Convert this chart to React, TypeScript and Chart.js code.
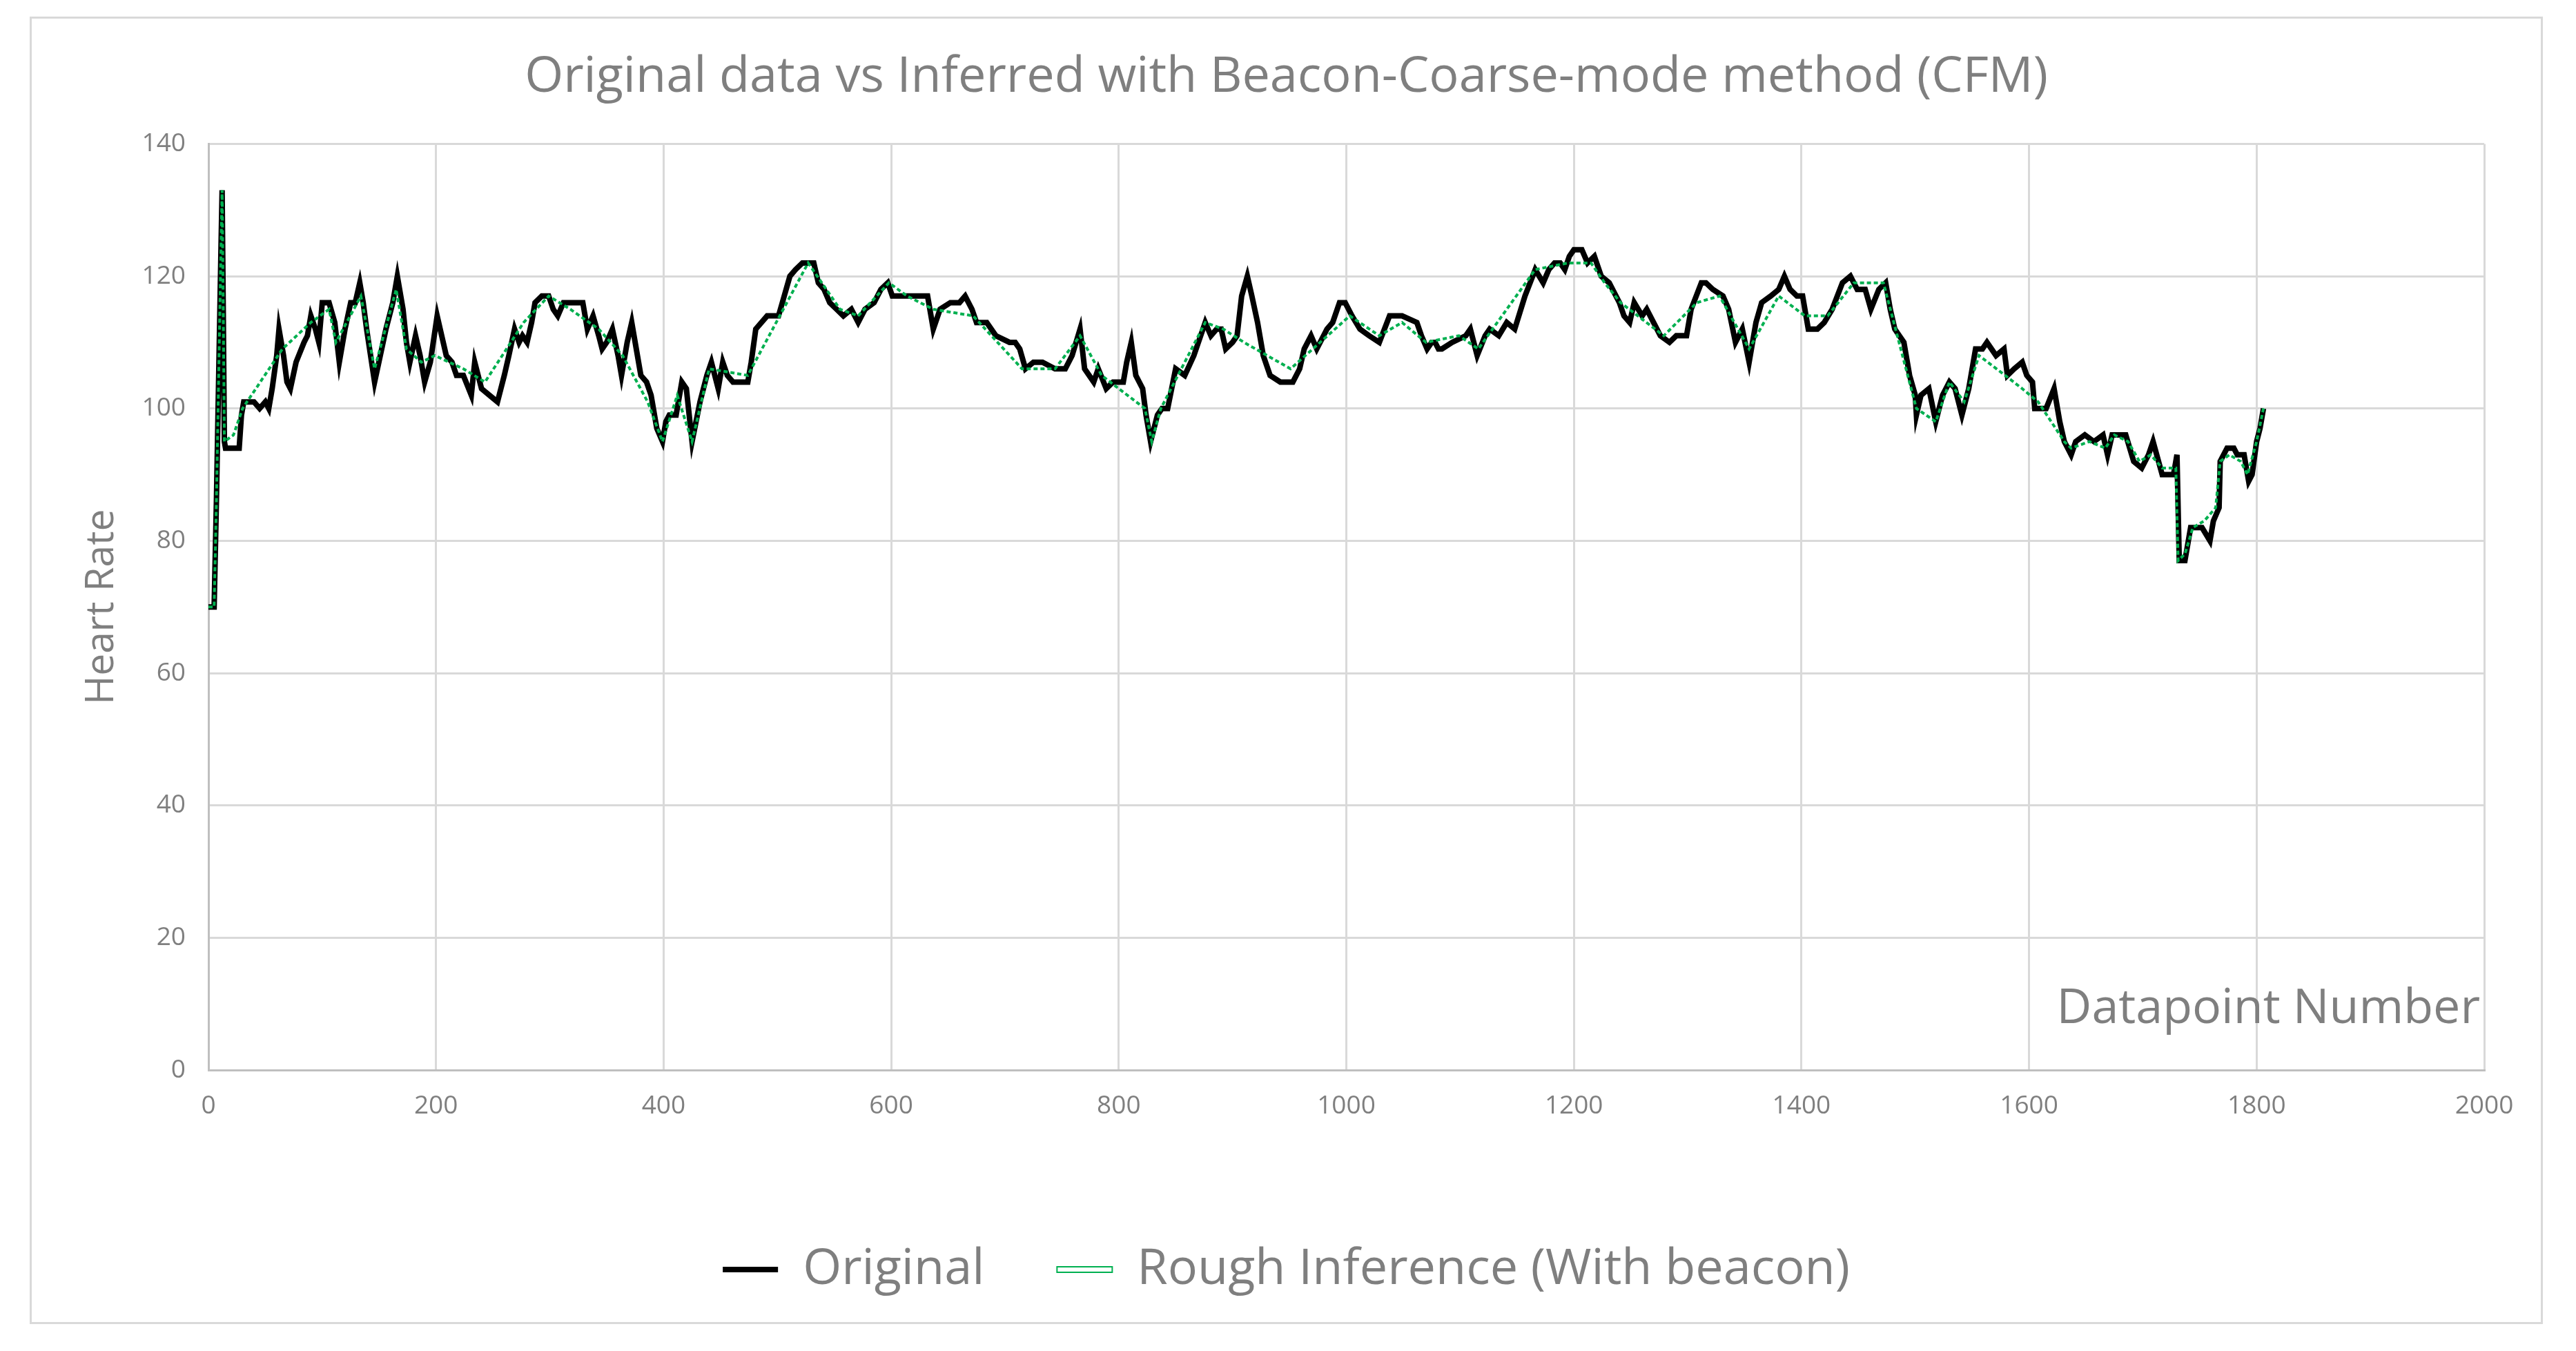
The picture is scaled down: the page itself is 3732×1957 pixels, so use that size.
import React, { useEffect, useRef } from 'react';
import { Chart, registerables } from 'chart.js';

Chart.register(...registerables);

// Original heart rate trace (datapoint number, bpm)
const origX = [
  0, 5, 7, 9, 11, 12, 13, 14, 15, 27, 29, 31, 40, 45, 50, 53, 56, 60, 62, 66, 69, 72, 77, 84, 87, 90, 94, 97,
  100, 106, 111, 115, 120, 125, 129, 133, 136, 139, 146, 151, 156, 162, 166, 171, 174, 177, 182, 186, 190, 195,
  201, 205, 209, 214, 218, 224, 231, 234, 240, 247, 254, 260, 264, 269, 273, 276, 280, 284, 287, 293, 299,
  303, 307, 312, 329, 333, 338, 343, 346, 350, 355, 360, 363, 368, 372, 376, 380, 385, 389, 394, 399,
  402, 405, 411, 416, 420, 425, 432, 438, 442, 448, 452, 456, 461, 474, 477, 481, 486, 491, 501, 506, 511,
  516, 522, 532, 536, 541, 546, 552, 558, 565, 571, 577, 585, 591, 597, 601, 632, 637, 643, 652, 660, 665,
  671, 675, 684, 692, 704, 709, 713, 718, 725, 733, 744, 753, 759, 766, 770, 778, 782, 789, 795, 804, 807,
  811, 815, 821, 824, 828, 834, 838, 843, 850, 858, 866, 872, 876, 881, 886, 890, 894, 900, 904, 908, 913,
  917, 922, 927, 933, 942, 953, 959, 963, 969, 974, 983, 988, 994, 999, 1005, 1012, 1020, 1029, 1038, 1049,
  1062, 1066, 1071, 1075, 1078, 1081, 1084, 1093, 1105, 1109, 1115, 1122, 1126, 1134, 1141, 1148, 1157, 1166,
  1173, 1178, 1183, 1188, 1192, 1196, 1200, 1207, 1212, 1218, 1224, 1231, 1240, 1244, 1249, 1253, 1260, 1264,
  1270, 1276, 1284, 1290, 1299, 1303, 1312, 1316, 1322, 1331, 1336, 1342, 1348, 1354, 1360, 1365, 1373, 1380,
  1385, 1390, 1396, 1401, 1406, 1414, 1420, 1427, 1436, 1443, 1449, 1456, 1461, 1468, 1474, 1478, 1482, 1490,
  1495, 1500, 1501, 1505, 1512, 1518, 1524, 1530, 1535, 1541, 1547, 1553, 1559, 1563, 1571, 1578, 1581, 1587,
  1594, 1598, 1603, 1605, 1615, 1622, 1627, 1631, 1637, 1641, 1649, 1657, 1665, 1669, 1673, 1685, 1692, 1699,
  1705, 1709, 1717, 1727, 1730, 1732, 1737, 1742, 1752, 1759, 1762, 1767, 1768, 1774, 1780, 1783, 1789, 1793,
  1796, 1800, 1803, 1806,
];
const origY = [
  70, 70, 86, 105, 124, 133, 115, 95, 94, 94, 99, 101, 101, 100, 101, 100, 103, 108, 112, 108, 104, 103, 107, 110, 111, 114, 112, 110,
  116, 116, 113, 107, 112, 116, 116, 119, 116, 112, 104, 108, 112, 116, 120, 115, 110, 107, 111, 108, 104, 107,
  114, 111, 108, 107, 105, 105, 102, 107, 103, 102, 101, 105, 108, 112, 110, 111, 110, 113, 116, 117, 117,
  115, 114, 116, 116, 112, 114, 111, 109, 110, 112, 108, 105, 110, 113, 109, 105, 104, 102, 97, 95,
  98, 99, 99, 104, 103, 95, 101, 105, 107, 103, 107, 105, 104, 104, 107, 112, 113, 114, 114, 117, 120,
  121, 122, 122, 119, 118, 116, 115, 114, 115, 113, 115, 116, 118, 119, 117, 117, 112, 115, 116, 116, 117,
  115, 113, 113, 111, 110, 110, 109, 106, 107, 107, 106, 106, 108, 112, 106, 104, 106, 103, 104, 104, 107,
  110, 105, 103, 99, 95, 99, 100, 100, 106, 105, 108, 111, 113, 111, 112, 112, 109, 110, 111, 117, 120,
  117, 113, 108, 105, 104, 104, 106, 109, 111, 109, 112, 113, 116, 116, 114, 112, 111, 110, 114, 114,
  113, 111, 109, 110, 110, 109, 109, 110, 111, 112, 108, 111, 112, 111, 113, 112, 117, 121,
  119, 121, 122, 122, 121, 123, 124, 124, 122, 123, 120, 119, 116, 114, 113, 116, 114, 115,
  113, 111, 110, 111, 111, 115, 119, 119, 118, 117, 115, 110, 112, 107, 113, 116, 117, 118,
  120, 118, 117, 117, 112, 112, 113, 115, 119, 120, 118, 118, 115, 118, 119, 115, 112, 110,
  105, 102, 99, 102, 103, 98, 102, 104, 103, 99, 103, 109, 109, 110, 108, 109, 105, 106,
  107, 105, 104, 100, 100, 103, 98, 95, 93, 95, 96, 95, 96, 93, 96, 96, 92, 91,
  93, 95, 90, 90, 93, 77, 77, 82, 82, 80, 83, 85, 92, 94, 94, 93, 93, 89,
  90, 95, 97, 100,
];

// Rough inference with beacon
const inferX = [
  0, 5, 7, 9, 11, 12, 13, 14, 22, 30, 65, 90, 106, 112, 134, 146, 165, 174, 187, 199, 224, 243, 262, 277, 299,
  318, 343, 364, 386, 399, 412, 425, 440, 474, 527, 555, 571, 598, 614, 637, 672, 715, 744, 766, 785, 800, 823,
  829, 837, 855, 876, 892, 910, 951, 1003, 1029, 1049, 1070, 1099, 1116, 1166, 1195, 1215, 1227, 1241, 1279,
  1308, 1328, 1354, 1380, 1403, 1423, 1446, 1472, 1501, 1518, 1530, 1543, 1556, 1579, 1594, 1608, 1631, 1637,
  1653, 1667, 1675, 1687, 1697, 1707, 1717, 1729, 1731, 1737, 1744, 1754, 1764, 1768, 1776, 1786, 1792, 1800,
  1806,
];
const inferY = [
  70, 70, 86, 105, 124, 133, 115, 95, 96, 100, 109, 113, 115, 110, 117, 106, 118, 109, 107, 108, 106, 104, 109, 113, 117,
  115, 112, 108, 101, 95, 102, 95, 106, 105, 122, 115, 114, 119, 117, 115, 114, 106, 106, 111, 105, 103, 100,
  95, 100, 106, 113, 112, 110, 106, 114, 111, 113, 110, 111, 109, 121, 122, 122, 119, 116, 111,
  116, 117, 109, 117, 114, 114, 119, 119, 100, 98, 104, 101, 108, 105, 103, 101, 95, 94,
  95, 94, 96, 95, 92, 93, 91, 91, 77, 78, 82, 83, 85, 92, 93, 92, 90, 95,
  100,
];

const TEXT = '#7f7f7f';
const FONT = 'Open Sans';

const toPoints = (xs: number[], ys: number[]) => xs.map((x, i) => ({ x, y: ys[i] }));

// "Datapoint Number" sits inside the plot, bottom right
const innerAxisLabel = {
  id: 'innerAxisLabel',
  afterDatasetsDraw(chart: any) {
    const { ctx, chartArea } = chart;
    ctx.save();
    ctx.font = `70px "${FONT}"`;
    ctx.fillStyle = TEXT;
    ctx.textAlign = 'right';
    ctx.textBaseline = 'alphabetic';
    ctx.fillText('Datapoint Number', chartArea.right - 6, chartArea.bottom - 68);
    ctx.restore();
  },
};

const HeartRateChart = () => {
  const canvasRef = useRef<HTMLCanvasElement | null>(null);

  useEffect(() => {
    if (!canvasRef.current) return;

    const chart = new Chart(canvasRef.current, {
      type: 'line',
      data: {
        datasets: [
          {
            label: 'Rough Inference (With beacon)',
            data: toPoints(inferX, inferY),
            borderColor: '#00b050',
            backgroundColor: '#00b050',
            borderWidth: 4,
            borderDash: [6, 4],
            pointRadius: 0,
            tension: 0,
          },
          {
            label: 'Original',
            data: toPoints(origX, origY),
            borderColor: '#000000',
            backgroundColor: '#000000',
            borderWidth: 8,
            pointRadius: 0,
            tension: 0,
          },
        ],
      },
      options: {
        animation: false,
        responsive: true,
        maintainAspectRatio: false,
        events: [],
        layout: { padding: { left: 0, right: 0, top: 0, bottom: 30 } },
        font: { family: FONT },
        scales: {
          x: {
            type: 'linear',
            min: 0,
            max: 2000,
            afterFit: (scale: any) => { scale.height = 148; },
            ticks: {
              stepSize: 200,
              color: TEXT,
              padding: 30,
              font: { family: FONT, size: 37 },
              callback: (v: any) => String(v),
            },
            grid: { color: '#d9d9d9', lineWidth: 3, drawTicks: false },
            border: { color: '#bfbfbf', width: 3 },
          },
          y: {
            min: 0,
            max: 140,
            afterFit: (scale: any) => { scale.width = 256; },
            ticks: { stepSize: 20, color: TEXT, padding: 33, font: { family: FONT, size: 37 } },
            grid: { color: '#d9d9d9', lineWidth: 3, drawTicks: false },
            border: { color: '#bfbfbf', width: 3 },
            title: {
              display: true,
              text: 'Heart Rate',
              color: TEXT,
              font: { family: FONT, size: 57 },
              padding: { top: 68, bottom: 0 },
            },
          },
          // empty right-hand strip so the title and legend stay centred on the canvas
          spacer: {
            position: 'right',
            afterFit: (scale: any) => { scale.width = 82; },
            ticks: { display: false },
            grid: { display: false, drawTicks: false },
            border: { display: false },
          },
        },
        plugins: {
          tooltip: { enabled: false },
          title: {
            display: true,
            text: 'Original data vs Inferred with Beacon-Coarse-mode method (CFM)',
            color: TEXT,
            font: { family: FONT, size: 72, weight: 'normal' },
            padding: { top: 42, bottom: 53 },
          },
          legend: {
            display: true,
            position: 'bottom',
            reverse: true,
            labels: {
              color: TEXT,
              font: { family: FONT, size: 72 },
              boxWidth: 80,
              boxHeight: 8,
              padding: 105,
              generateLabels: (c: any) => {
                const items = Chart.defaults.plugins.legend.labels.generateLabels(c);
                return items.map((item: any) => {
                  if (item.datasetIndex === 0) {
                    // green entry drawn as a hollow double stroke
                    return { ...item, fillStyle: '#ffffff', strokeStyle: '#00b050', lineWidth: 2, lineDash: [] };
                  }
                  return { ...item, fillStyle: '#000000', strokeStyle: '#000000', lineWidth: 0, lineDash: [] };
                });
              },
            },
          },
        },
      },
      plugins: [innerAxisLabel],
    });

    return () => {
      chart.destroy();
    };
  }, []);

  return (
    <div
      style={{
        position: 'absolute',
        left: 43,
        top: 24,
        width: 3641,
        height: 1894,
        border: '3px solid #d9d9d9',
        boxSizing: 'border-box',
        background: '#ffffff',
      }}
    >
      <canvas ref={canvasRef} />
    </div>
  );
};

export default function App() {
  return <HeartRateChart />;
}
